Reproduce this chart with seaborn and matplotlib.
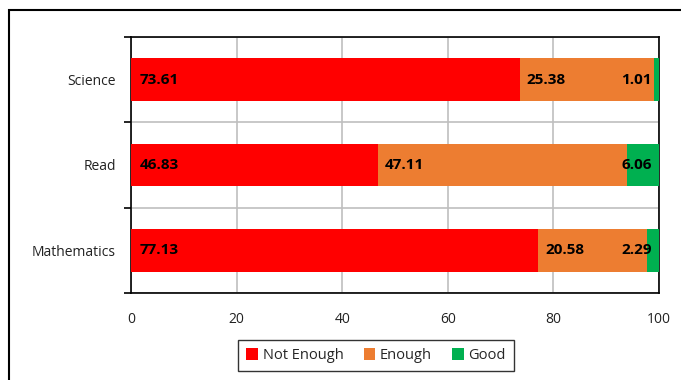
import matplotlib
matplotlib.use("Agg")
import matplotlib.pyplot as plt
from matplotlib.patches import Rectangle, Patch
import seaborn as sns
import pandas as pd

subjects = ["Science", "Read", "Mathematics"]
not_enough = [73.61, 46.83, 77.13]
enough = [25.38, 47.11, 20.58]
good = [1.01, 6.06, 2.29]
series_names = ["Not Enough", "Enough", "Good"]
x_ticks = [0, 20, 40, 60, 80, 100]

colors = {"Not Enough": "#FF0000", "Enough": "#ED7D31", "Good": "#00B050"}

sns.set_theme(style="white")
plt.rcParams["font.family"] = ["Open Sans", "DejaVu Sans"]

df = pd.DataFrame({
    "subject": subjects,
    "Not Enough": not_enough,
    "Enough": enough,
    "Good": good,
})
df["cum_enough"] = df["Not Enough"] + df["Enough"]
df["cum_good"] = df["cum_enough"] + df["Good"]

fig = plt.figure(figsize=(6.81, 3.80), dpi=100)
ax = fig.add_axes([131 / 681, 1 - 293 / 380, (659 - 131) / 681, (293 - 37) / 380])

# Stacked horizontal bars: draw cumulative totals back to front
bar_kw = dict(y="subject", order=subjects, width=0.5, saturation=1, ax=ax,
              linewidth=0, edgecolor="none", zorder=3)
sns.barplot(data=df, x="cum_good", color=colors["Good"], **bar_kw)
sns.barplot(data=df, x="cum_enough", color=colors["Enough"], **bar_kw)
sns.barplot(data=df, x="Not Enough", color=colors["Not Enough"], **bar_kw)

# Value labels
label_kw = dict(textcoords="offset points", va="center", fontsize=11,
                fontweight="bold", color="black", zorder=5)
for i, row in df.iterrows():
    ax.annotate(f"{row['Not Enough']:.2f}", (0, i), xytext=(6.5, 0), ha="left", **label_kw)
    ax.annotate(f"{row['Enough']:.2f}", (row["Not Enough"], i), xytext=(5, 0), ha="left", **label_kw)
    ax.annotate(f"{row['Good']:.2f}", (row["cum_good"], i), xytext=(-5, 0), ha="right", **label_kw)

ax.set_xlim(0, 100)
ax.set_ylim(2.5, -0.5)
ax.set_xticks(x_ticks)
ax.set_xticklabels([str(t) for t in x_ticks])
ax.set_xlabel("")
ax.set_ylabel("")

# Category separators as minor ticks / gridlines
ax.set_yticks([-0.5, 0.5, 1.5, 2.5], minor=True)
ax.tick_params(axis="y", which="major", length=0, pad=11, labelsize=10, labelcolor="#222222")
ax.tick_params(axis="y", which="minor", length=5, width=1.2, color="black", direction="out", left=True)
ax.tick_params(axis="x", which="major", length=0, pad=14, labelsize=10, labelcolor="#222222")

ax.grid(axis="x", which="major", color="#BFBFBF", linewidth=1.2, zorder=0)
ax.grid(axis="y", which="minor", color="#BFBFBF", linewidth=1.2, zorder=0)
ax.set_axisbelow(True)

for s in ax.spines.values():
    s.set_visible(True)
    s.set_color("black")
    s.set_linewidth(1.2)

handles = [Patch(facecolor=colors[n], edgecolor="none", label=n) for n in series_names]
leg = fig.legend(handles=handles, loc="center", bbox_to_anchor=(376 / 681, 1 - 355.5 / 380),
                 ncol=3, frameon=True, fancybox=False, fontsize=10.5,
                 handlelength=0.8, handleheight=0.8, handletextpad=0.3, columnspacing=1.4,
                 borderpad=0.55)
leg.get_frame().set_edgecolor("black")
leg.get_frame().set_linewidth(1.0)

# Outer chart border
fig.patches.append(Rectangle((9 / 681, -0.2), 1.2, 1 - 10 / 380 + 0.2, transform=fig.transFigure,
                             fill=False, edgecolor="black", linewidth=1.5, figure=fig))

fig.savefig("out.png", dpi=100)
